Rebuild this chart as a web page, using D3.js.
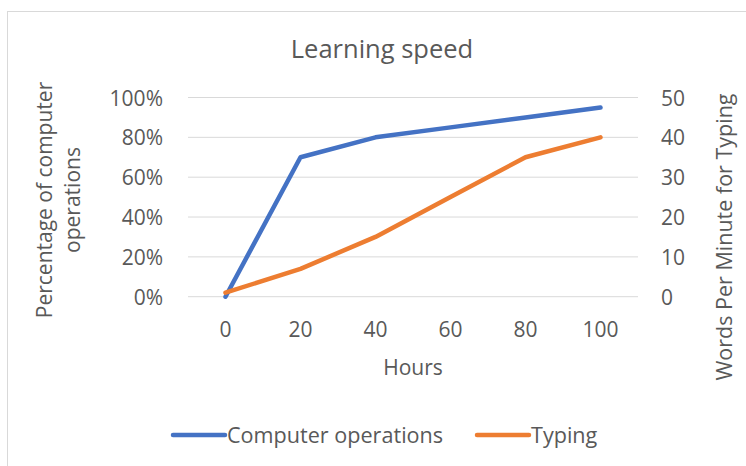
<!DOCTYPE html>
<html>
<head>
<meta charset="utf-8">
<script src="https://cdn.jsdelivr.net/npm/d3@7"></script>
<style>
  body { margin: 0; background: #fff; }
  svg text { font-family: "Open Sans", "Noto Sans", sans-serif; fill: #595959; }
</style>
</head>
<body>
<div id="chart"></div>
<script>
// data
var hours = ["0", "20", "40", "60", "80", "100"];
var computerOps = [0, 0.70, 0.80, 0.85, 0.90, 0.95];
var typingWpm = [1, 7, 15, 25, 35, 40];
var leftTicks = [0, 0.2, 0.4, 0.6, 0.8, 1.0];
var rightTicks = [0, 10, 20, 30, 40, 50];

var width = 746, height = 466;
var plot = { left: 188, right: 638, top: 97.5, bottom: 296.7 };

var svg = d3.select("#chart").append("svg")
  .attr("width", width)
  .attr("height", height);

// chart frame (only top and left edges show in the shot)
svg.append("rect")
  .attr("x", 7.5).attr("y", 11.5)
  .attr("width", width + 20).attr("height", height + 20)
  .attr("fill", "none")
  .attr("stroke", "#d9d9d9");

var x = d3.scaleBand().domain(hours).range([plot.left, plot.right]).padding(0);
var yL = d3.scaleLinear().domain([0, 1]).range([plot.bottom, plot.top]);
var yR = d3.scaleLinear().domain([0, 50]).range([plot.bottom, plot.top]);
var cx = function (d) { return x(d) + x.bandwidth() / 2; };

// gridlines
svg.append("g").selectAll("line")
  .data(leftTicks)
  .enter().append("line")
  .attr("x1", plot.left).attr("x2", plot.right)
  .attr("y1", function (d) { return yL(d); })
  .attr("y2", function (d) { return yL(d); })
  .attr("stroke", "#d9d9d9")
  .attr("stroke-width", 1);

// left axis
var leftAxis = svg.append("g")
  .attr("transform", "translate(" + (plot.left - 25) + ",0)")
  .call(d3.axisLeft(yL).tickValues(leftTicks).tickFormat(d3.format(".0%")).tickSize(0).tickPadding(0));
leftAxis.select(".domain").remove();
leftAxis.selectAll("text").style("font-size", "21px").attr("fill", "#595959").attr("dy", "0.36em");

// right axis
var rightAxis = svg.append("g")
  .attr("transform", "translate(" + (plot.right + 23) + ",0)")
  .call(d3.axisRight(yR).tickValues(rightTicks).tickSize(0).tickPadding(0));
rightAxis.select(".domain").remove();
rightAxis.selectAll("text").style("font-size", "21px").attr("fill", "#595959").attr("dy", "0.36em");

// bottom axis
var bottomAxis = svg.append("g")
  .attr("transform", "translate(0," + 322 + ")")
  .call(d3.axisBottom(x).tickSize(0).tickPadding(0));
bottomAxis.select(".domain").remove();
bottomAxis.selectAll("text").style("font-size", "21px").attr("fill", "#595959").attr("dy", "0.71em");

// lines
var lineL = d3.line()
  .x(function (d, i) { return cx(hours[i]); })
  .y(function (d) { return yL(d); });
var lineR = d3.line()
  .x(function (d, i) { return cx(hours[i]); })
  .y(function (d) { return yR(d); });

svg.append("path")
  .datum(computerOps)
  .attr("d", lineL)
  .attr("fill", "none")
  .attr("stroke", "#4472c4")
  .attr("stroke-width", 4.5)
  .attr("stroke-linecap", "round")
  .attr("stroke-linejoin", "round");

svg.append("path")
  .datum(typingWpm)
  .attr("d", lineR)
  .attr("fill", "none")
  .attr("stroke", "#ed7d31")
  .attr("stroke-width", 4.5)
  .attr("stroke-linecap", "round")
  .attr("stroke-linejoin", "round");

// title
svg.append("text")
  .attr("x", 382).attr("y", 58)
  .attr("text-anchor", "middle")
  .style("font-size", "25.5px")
  .text("Learning speed");

// x axis title
svg.append("text")
  .attr("x", (plot.left + plot.right) / 2).attr("y", 375)
  .attr("text-anchor", "middle")
  .style("font-size", "21px")
  .text("Hours");

// left axis title (two lines)
var lt = svg.append("text")
  .attr("transform", "translate(52,200) rotate(-90)")
  .attr("text-anchor", "middle")
  .style("font-size", "21px");
lt.append("tspan").attr("x", 0).attr("y", 0).text("Percentage of computer");
lt.append("tspan").attr("x", 0).attr("y", 28).text("operations");

// right axis title
svg.append("text")
  .attr("transform", "translate(732,237) rotate(-90)")
  .attr("text-anchor", "middle")
  .style("font-size", "21.5px")
  .text("Words Per Minute for Typing");

// legend
var legendItems = [
  { name: "Computer operations", color: "#4472c4", x: 173 },
  { name: "Typing", color: "#ed7d31", x: 477 }
];
var lg = svg.append("g").selectAll("g")
  .data(legendItems)
  .enter().append("g")
  .attr("transform", function (d) { return "translate(" + d.x + ",435)"; });
lg.append("line")
  .attr("x1", 0).attr("x2", 52)
  .attr("stroke", function (d) { return d.color; })
  .attr("stroke-width", 4.5)
  .attr("stroke-linecap", "round");
lg.append("text")
  .attr("x", 54).attr("y", 0)
  .attr("dy", "0.36em")
  .style("font-size", "21.6px")
  .text(function (d) { return d.name; });
</script>
</body>
</html>
